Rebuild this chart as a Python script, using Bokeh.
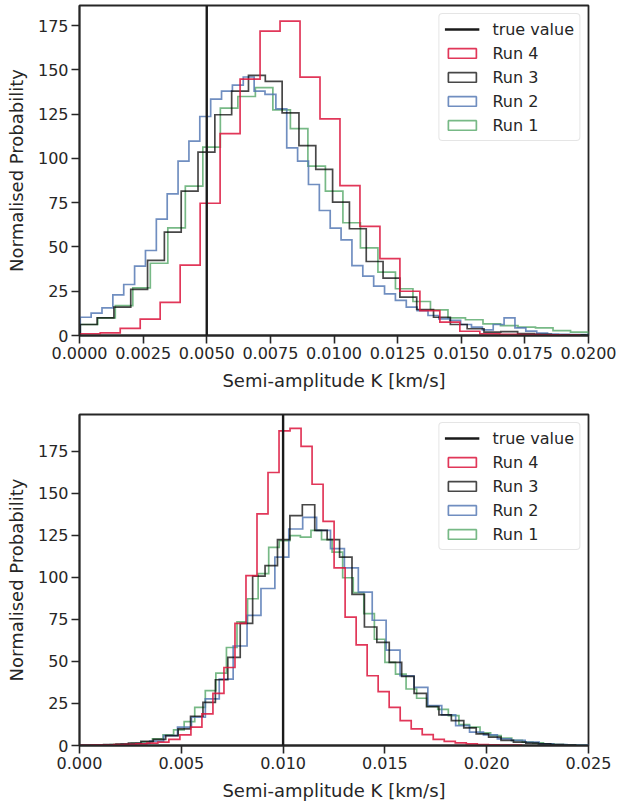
from bokeh.plotting import figure
from bokeh.models import (Span, Legend, LegendItem, FixedTicker,
                          NumeralTickFormatter, Range1d)
from bokeh.layouts import column
from bokeh.embed import file_html
from bokeh.resources import INLINE

# ---------------- data ----------------
RUN_NAMES = ["Run 1", "Run 2", "Run 3", "Run 4"]
Y_TICKS = [0, 25, 50, 75, 100, 125, 150, 175]

# top panel
TOP_X_TICKS = [0.0, 0.0025, 0.005, 0.0075, 0.01, 0.0125, 0.015, 0.0175, 0.02]
TOP_TRUE = 0.005
TOP_RUN1_START, TOP_RUN1_WIDTH = 0.00003, 0.000688
TOP_RUN1 = [6.2, 10.0, 16.9, 26.9, 40.8, 60.8, 84.4, 106.4, 128.4, 135.0, 140.0,
            127.5, 116.8, 95.7, 81.5, 63.7, 49.5, 35.8, 26.4, 19.2, 14.5, 10.0,
            8.9, 6.6, 5.6, 4.7, 4.3, 2.8, 1.9, 1.5]
TOP_RUN2_START, TOP_RUN2_WIDTH = 0.00003, 0.000427
TOP_RUN2 = [10.3, 12.6, 15.6, 23.0, 28.8, 39.2, 48.0, 65.7, 80.0, 98.5, 109.8,
            123.7, 133.5, 138.0, 141.4, 146.0, 138.0, 136.2, 128.0, 106.0, 98.5,
            85.3, 70.6, 60.6, 54.0, 39.5, 33.5, 27.9, 23.5, 19.8, 16.0, 14.1,
            11.3, 9.4, 8.5, 6.2, 4.7, 3.2, 6.2, 10.0, 4.3, 2.5, 1.3, 0.8, 0.6,
            0.5, 0.5, 0.4]
TOP_RUN3_START, TOP_RUN3_WIDTH = 0.00003, 0.000661
TOP_RUN3 = [6.2, 10.0, 16.0, 26.0, 42.4, 58.4, 81.6, 103.6, 124.7, 138.0, 146.9,
            143.5, 125.8, 107.3, 93.8, 75.3, 60.3, 41.8, 32.4, 21.7, 14.7, 10.3,
            6.2, 3.8, 1.9, 2.2, 1.1, 0.6, 0.4, 0.3, 0.2]
TOP_RUN4_START, TOP_RUN4_WIDTH = 0.00003, 0.000785
TOP_RUN4 = [1.0, 1.5, 4.0, 9.3, 18.7, 39.7, 74.7, 114.0, 144.8, 171.9, 177.6,
            145.9, 122.4, 84.7, 61.6, 43.4, 25.0, 14.1, 7.5, 2.4, 0.9, 0.7, 0.5,
            0.3, 0.2]

# bottom panel
BOT_X_TICKS = [0.0, 0.005, 0.01, 0.015, 0.02, 0.025]
BOT_TRUE = 0.010
BOT_RUN1_START, BOT_RUN1_WIDTH = -0.000049, 0.000519
BOT_RUN1 = [0.1, 0.2, 0.3, 0.5, 0.8, 1.3, 2.2, 4.0, 6.3, 9.3, 14.2, 22.7, 32.6,
            43.1, 58.3, 73.5, 87.3, 102.3, 117.9, 121.9, 124.8, 124.0, 128.0,
            122.5, 115.0, 99.8, 90.9, 78.4, 63.2, 49.4, 42.5, 33.6, 28.1, 23.3,
            21.5, 17.8, 12.4, 10.9, 7.5, 5.9, 4.4, 3.0, 2.0, 1.6, 1.0, 0.6, 0.4,
            0.2]
BOT_RUN2_START, BOT_RUN2_WIDTH = 0.000034, 0.000683
BOT_RUN2 = [0.1, 0.2, 0.4, 0.7, 1.2, 2.6, 5.9, 10.9, 16.8, 27.7, 39.5, 59.2,
            77.4, 93.4, 112.0, 128.8, 135.7, 128.0, 117.1, 105.7, 91.2, 74.5,
            56.7, 41.5, 34.6, 23.7, 18.2, 11.8, 7.9, 6.3, 4.0, 3.0, 2.0, 1.0,
            0.6, 0.3, 0.2]
BOT_RUN3_START, BOT_RUN3_WIDTH = -0.000036, 0.00061
BOT_RUN3 = [0.1, 0.3, 0.5, 0.9, 1.5, 2.4, 3.6, 5.9, 9.9, 17.4, 25.7, 39.1, 52.4,
            72.7, 100.7, 107.0, 122.5, 136.7, 143.2, 128.0, 122.5, 112.0, 89.9,
            70.5, 61.3, 49.4, 41.1, 31.0, 23.1, 18.2, 14.8, 10.5, 6.9, 5.0, 3.0,
            2.0, 1.4, 1.0, 0.5, 0.3]
BOT_RUN4_START, BOT_RUN4_WIDTH = 0.000062, 0.000541
BOT_RUN4 = [0.1, 0.2, 0.3, 0.5, 0.7, 1.0, 1.4, 2.0, 3.6, 6.3, 10.9, 18.8, 31.0,
            46.4, 72.7, 101.1, 137.8, 162.4, 187.2, 188.6, 177.9, 155.4, 133.3,
            105.7, 76.4, 59.8, 41.5, 32.0, 22.7, 14.8, 9.9, 6.5, 3.6, 2.4, 1.6,
            1.0, 0.6, 0.4, 0.3, 0.2]

# ---------------- style ----------------
FONT = "DejaVu Sans"
INK = "#262626"
COLORS = {"Run 1": "#55A868", "Run 2": "#4C72B0", "Run 3": "#000000", "Run 4": "#DC143C"}
ALPHAS = {"Run 1": 0.8, "Run 2": 0.8, "Run 3": 0.72, "Run 4": 0.85}
NAN = float("nan")


def outline(start, width, counts):
    xs, ys = [start], [0.0]
    for i, c in enumerate(counts):
        x0 = start + i * width
        xs += [x0, x0 + width]
        ys += [c, c]
    xs.append(start + len(counts) * width)
    ys.append(0.0)
    return xs, ys


def make_panel(xmax, ymax, xticks, fmt, true_val, runs, width, height,
               bl, br, bt, bb):
    p = figure(width=width, height=height,
               x_range=Range1d(0, xmax), y_range=Range1d(0, ymax),
               output_backend="svg", toolbar_location=None,
               min_border_left=bl, min_border_right=br,
               min_border_top=bt, min_border_bottom=bb)
    p.xgrid.visible = False
    p.ygrid.visible = False
    p.background_fill_color = "white"
    p.border_fill_color = "white"
    p.outline_line_color = INK
    p.outline_line_width = 1.8
    p.outline_line_alpha = 1.0

    for ax in (p.xaxis[0], p.yaxis[0]):
        ax.axis_line_color = INK
        ax.axis_line_width = 1.8
        ax.major_tick_line_color = INK
        ax.major_tick_line_width = 1.6
        ax.major_tick_out = 8
        ax.major_tick_in = 0
        ax.minor_tick_line_color = None
        ax.major_label_text_font = FONT
        ax.major_label_text_font_size = "16px"
        ax.major_label_text_color = INK
        ax.axis_label_text_font = FONT
        ax.axis_label_text_font_size = "18px"
        ax.axis_label_text_font_style = "normal"
        ax.axis_label_text_color = INK
        ax.major_label_standoff = 3

    p.xaxis.ticker = FixedTicker(ticks=xticks)
    p.xaxis.formatter = NumeralTickFormatter(format=fmt)
    p.xaxis.axis_label = "Semi-amplitude K [km/s]"
    p.xaxis.axis_label_standoff = 8
    p.yaxis.ticker = FixedTicker(ticks=Y_TICKS)
    p.yaxis.axis_label = "Normalised Probability"
    p.yaxis.axis_label_standoff = 8

    # histograms (step outlines)
    for name in RUN_NAMES:
        start, w, counts = runs[name]
        xs, ys = outline(start, w, counts)
        p.line(xs, ys, line_color=COLORS[name], line_alpha=ALPHAS[name],
               line_width=1.7, line_join="miter")

    # true value
    p.add_layout(Span(location=true_val, dimension="height",
                      line_color="#1a1a1a", line_width=2.4))

    # legend (NaN placeholders: glyphs only appear in the legend)
    items = []
    tv = p.line(x=[NAN], y=[NAN], line_color="#1a1a1a", line_width=2.4)
    items.append(LegendItem(label="true value", renderers=[tv]))
    for name in reversed(RUN_NAMES):
        q = p.quad(left=[NAN], right=[NAN], top=[NAN], bottom=[NAN],
                   fill_alpha=0, line_color=COLORS[name],
                   line_alpha=ALPHAS[name], line_width=1.7)
        items.append(LegendItem(label=name, renderers=[q]))
    leg = Legend(items=items, location="top_right")
    leg.label_text_font = FONT
    leg.label_text_font_size = "16px"
    leg.label_text_color = INK
    leg.glyph_width = 35
    leg.glyph_height = 12
    leg.label_height = 20
    leg.label_standoff = 13
    leg.spacing = 4
    leg.padding = 5
    leg.margin = 8
    leg.border_line_color = "#cccccc"
    leg.border_line_width = 1
    leg.background_fill_alpha = 0.8
    if "border_radius" in Legend.properties():
        leg.border_radius = 4
    p.add_layout(leg)
    return p


top_runs = {
    "Run 1": (TOP_RUN1_START, TOP_RUN1_WIDTH, TOP_RUN1),
    "Run 2": (TOP_RUN2_START, TOP_RUN2_WIDTH, TOP_RUN2),
    "Run 3": (TOP_RUN3_START, TOP_RUN3_WIDTH, TOP_RUN3),
    "Run 4": (TOP_RUN4_START, TOP_RUN4_WIDTH, TOP_RUN4),
}
bot_runs = {
    "Run 1": (BOT_RUN1_START, BOT_RUN1_WIDTH, BOT_RUN1),
    "Run 2": (BOT_RUN2_START, BOT_RUN2_WIDTH, BOT_RUN2),
    "Run 3": (BOT_RUN3_START, BOT_RUN3_WIDTH, BOT_RUN3),
    "Run 4": (BOT_RUN4_START, BOT_RUN4_WIDTH, BOT_RUN4),
}

p1 = make_panel(0.02, 186.4, TOP_X_TICKS, "0.0000", TOP_TRUE, top_runs,
                619, 400, 79, 31, 5, 65)
p2 = make_panel(0.025, 196.9, BOT_X_TICKS, "0.000", BOT_TRUE, bot_runs,
                619, 403, 77, 29, 14, 57)

layout = column(p1, p2)
open("out.html", "w").write(file_html(layout, INLINE))
